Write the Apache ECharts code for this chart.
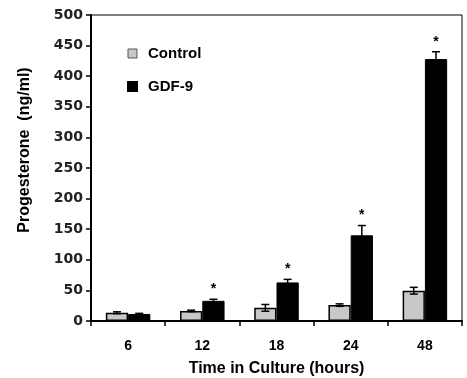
<!DOCTYPE html>
<html>
<head>
<meta charset="utf-8">
<script src="https://cdn.jsdelivr.net/npm/echarts@6/dist/echarts.min.js"></script>
<style>
  html, body { margin: 0; padding: 0; background: #fff; }
  #chart { width: 467px; height: 378px; }
</style>
</head>
<body>
<div id="chart"></div>
<script>
// time points (hours)
var categories = ["6", "12", "18", "24", "48"];
var controlValues = [13.5, 16.5, 21.5, 26, 49.5];
var controlErrors = [1.5, 1.2, 5.5, 2, 5.5];
var gdfValues = [11.5, 33, 63, 140, 428];
var gdfErrors = [1, 2.5, 5, 16, 12];
var gdfSignificant = [false, true, true, true, true];
var yTicks = [0, 50, 100, 150, 200, 250, 300, 350, 400, 450, 500];

var FONT = "Liberation Sans";
var BAR_RATIO = 0.30;

function errorBar(side) {
  return function (params, api) {
    var i = api.value(0);
    var v = api.value(1);
    var e = api.value(2);
    var bw = api.size([1, 0])[0] * BAR_RATIO;
    var base = api.coord([i, v]);
    var x = base[0] + side * bw / 2;
    var top = api.coord([i, v + e])[1];
    var bot = api.coord([i, v - e])[1];
    var style = { stroke: "#000", lineWidth: 1.5 };
    var children = [
      { type: "line", shape: { x1: x, y1: top, x2: x, y2: bot }, style: style },
      { type: "line", shape: { x1: x - 4, y1: top, x2: x + 4, y2: top }, style: style },
      { type: "line", shape: { x1: x - 4, y1: bot, x2: x + 4, y2: bot }, style: style }
    ];
    if (api.value(3)) {
      children.push({
        type: "text",
        style: {
          text: "*", x: x, y: top - 3,
          align: "center", verticalAlign: "bottom",
          fontSize: 14, fontWeight: "bold", fontFamily: FONT, fill: "#000"
        }
      });
    }
    return { type: "group", children: children };
  };
}

var chart = echarts.init(document.getElementById("chart"));
chart.setOption({
  animation: false,
  backgroundColor: "#fff",
  grid: {
    left: 91, right: 5, top: 15, bottom: 57,
    containLabel: false,
    outerBoundsMode: "none",
    show: true, borderColor: "#000", borderWidth: 1
  },
  legend: {
    orient: "vertical",
    left: 122, top: 41,
    itemWidth: 9, itemHeight: 9, itemGap: 18,
    textStyle: { fontFamily: FONT, fontSize: 15, fontWeight: "bold", color: "#000", padding: [0, 0, 0, 6] },
    data: [
      { name: "Control", icon: "rect", itemStyle: { color: "#c8c8c8", borderColor: "#555", borderWidth: 1 } },
      { name: "GDF-9", icon: "rect", itemStyle: { color: "#000" } }
    ]
  },
  xAxis: {
    type: "category",
    data: categories,
    name: "Time in Culture (hours)",
    nameLocation: "middle",
    nameGap: 40,
    nameTextStyle: { fontFamily: FONT, fontSize: 16, fontWeight: "bold", color: "#000" },
    axisLine: { lineStyle: { color: "#000", width: 2 } },
    axisTick: { show: true, length: 5, lineStyle: { color: "#000", width: 1.5 } },
    axisLabel: { margin: 18, fontFamily: FONT, fontSize: 14, fontWeight: "bold", color: "#000" }
  },
  yAxis: {
    type: "value",
    min: yTicks[0],
    max: yTicks[yTicks.length - 1],
    interval: yTicks[1] - yTicks[0],
    name: "Progesterone  (ng/ml)",
    nameLocation: "middle",
    nameGap: 58,
    nameTextStyle: { fontFamily: FONT, fontSize: 16, fontWeight: "bold", color: "#000", padding: [0, 0, 0, 36] },
    axisLine: { show: true, lineStyle: { color: "#000", width: 2 } },
    axisTick: { show: true, length: 5, lineStyle: { color: "#000", width: 1.5 } },
    axisLabel: { margin: 8, fontFamily: "DejaVu Sans", fontSize: 14, fontWeight: "bold", color: "#222" },
    splitLine: { show: false }
  },
  series: [
    {
      name: "Control",
      type: "bar",
      barWidth: (BAR_RATIO * 100) + "%",
      barGap: "0%",
      itemStyle: { color: "#c8c8c8", borderColor: "#000", borderWidth: 1.5 },
      data: controlValues
    },
    {
      name: "GDF-9",
      type: "bar",
      barWidth: (BAR_RATIO * 100) + "%",
      barGap: "0%",
      itemStyle: { color: "#000", borderColor: "#000", borderWidth: 1 },
      data: gdfValues
    },
    {
      type: "custom",
      renderItem: errorBar(-1),
      encode: { x: 0, y: 1 },
      z: 3,
      data: controlValues.map(function (v, i) { return [i, v, controlErrors[i], 0]; })
    },
    {
      type: "custom",
      renderItem: errorBar(1),
      encode: { x: 0, y: 1 },
      z: 3,
      data: gdfValues.map(function (v, i) { return [i, v, gdfErrors[i], gdfSignificant[i] ? 1 : 0]; })
    }
  ]
});
</script>
</body>
</html>
